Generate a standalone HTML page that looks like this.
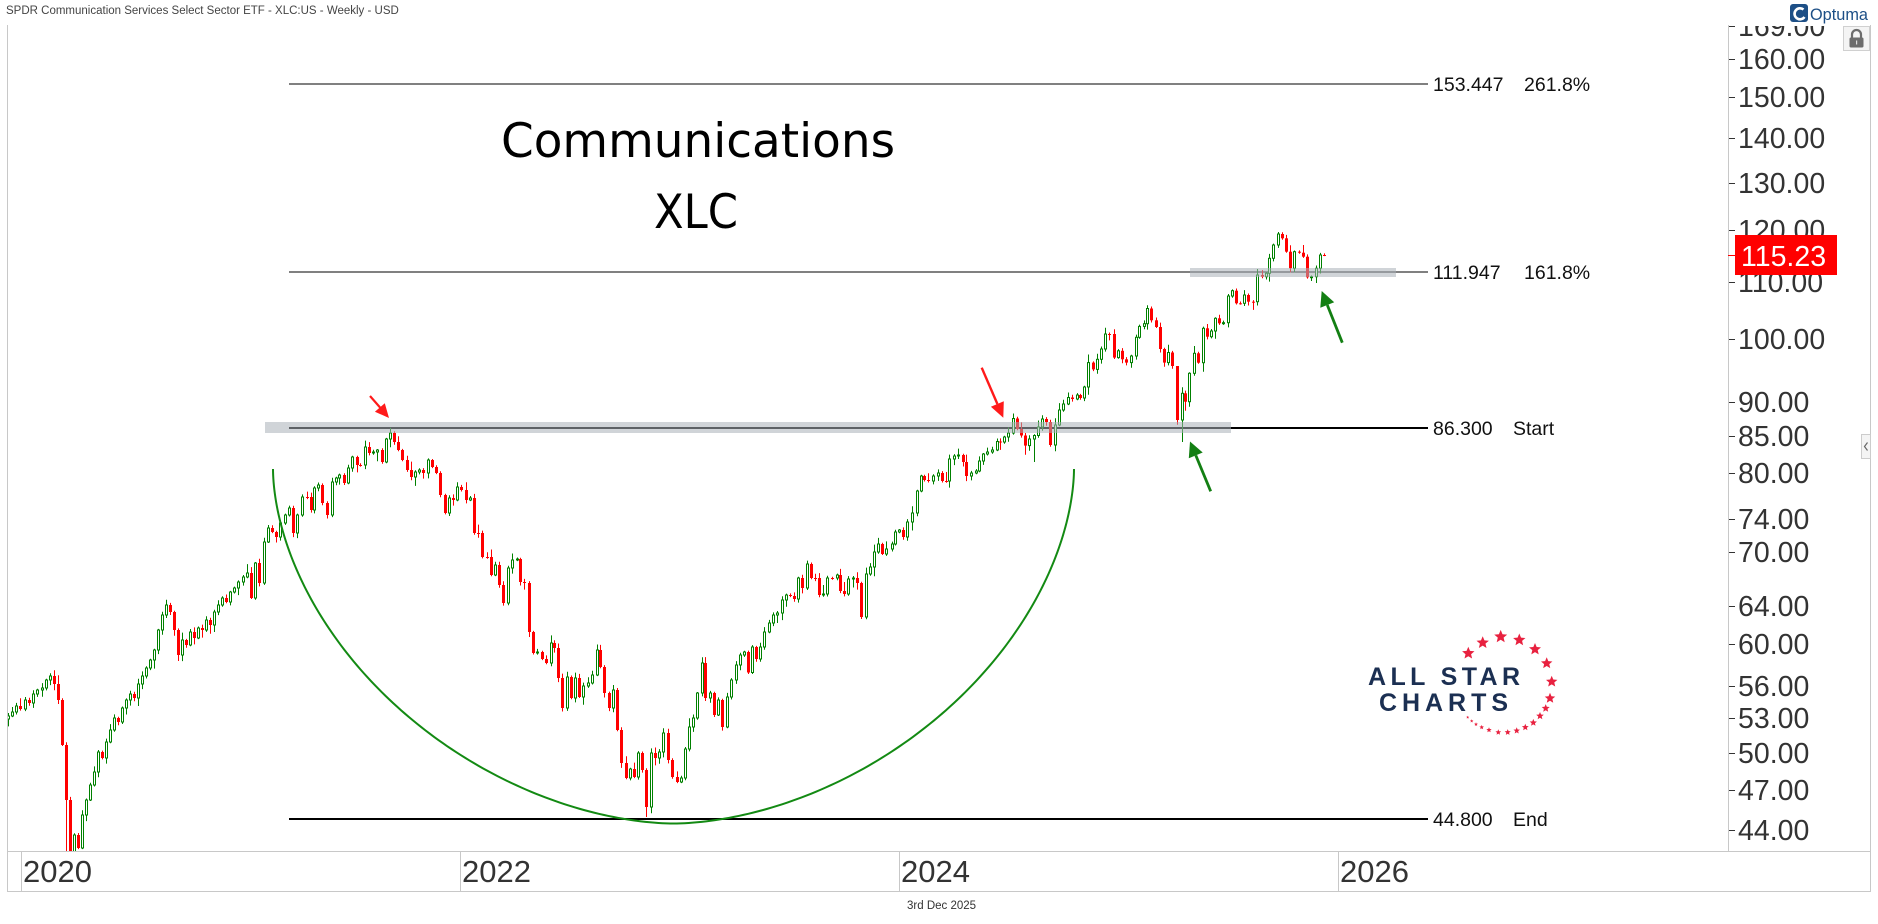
<!DOCTYPE html>
<html><head><meta charset="utf-8">
<style>
html,body{margin:0;padding:0;background:#fff;}
svg{display:block;}
text{font-family:"Liberation Sans",Arial,sans-serif;}
</style></head><body>
<svg id="s" width="1878" height="924" viewBox="0 0 1878 924" xmlns="http://www.w3.org/2000/svg">
<defs>
<clipPath id="plot"><rect x="8" y="25" width="1720" height="826"/></clipPath>
<clipPath id="axisclip"><rect x="1729" y="26" width="141" height="825"/></clipPath>
</defs>
<rect width="1878" height="924" fill="#fff"/>

<text x="6" y="14" font-size="11.5" fill="#444">SPDR Communication Services Select Sector ETF - XLC:US - Weekly - USD</text>

<!-- Optuma logo -->
<rect x="1790" y="4" width="18" height="18" rx="3" fill="#1d4f86"/>
<path d="M1803.5,9.5 A5.5,5.5 0 1 0 1804.5,17" stroke="#fff" stroke-width="2.6" fill="none"/>
<text x="1810" y="20" font-size="17" fill="#1d4f86" textLength="58" lengthAdjust="spacingAndGlyphs">Optuma</text>

<!-- frame -->
<g stroke="#c8c8c8" stroke-width="1" fill="none" shape-rendering="crispEdges">
<line x1="7.5" y1="25" x2="7.5" y2="892"/>
<line x1="7" y1="851.5" x2="1871" y2="851.5"/>
<line x1="7" y1="891.5" x2="1871" y2="891.5"/>
<line x1="1728.5" y1="25" x2="1728.5" y2="851"/>
<line x1="1870.5" y1="25" x2="1870.5" y2="892"/>
<line x1="21.5" y1="851" x2="21.5" y2="891"/>
<line x1="460.5" y1="851" x2="460.5" y2="891"/>
<line x1="899.5" y1="851" x2="899.5" y2="891"/>
<line x1="1338.5" y1="851" x2="1338.5" y2="891"/>
</g>

<!-- lock box -->
<rect x="1843.5" y="26.5" width="26" height="24" fill="#f4f4f4" stroke="#d0d0d0"/>
<path d="M1852,38 v-3.5 a4.5,4.5 0 0 1 9,0 v3.5" stroke="#6d6d6d" stroke-width="2.2" fill="none"/>
<rect x="1849.5" y="37.5" width="14" height="10" rx="1.5" fill="#6d6d6d"/>
<rect x="1856" y="40.5" width="1.2" height="4" fill="#ddd"/>

<!-- right tab -->
<rect x="1861.5" y="434.5" width="9" height="24" fill="#f4f4f4" stroke="#ccc"/>
<path d="M1867.5,442.5 l-3,4 l3,4" stroke="#666" stroke-width="1.2" fill="none"/>

<!-- x axis labels -->
<g font-size="31" fill="#333">
<text x="23" y="882">2020</text>
<text x="462" y="882">2022</text>
<text x="901" y="882">2024</text>
<text x="1340" y="882">2026</text>
</g>
<text x="907" y="909" font-size="11.5" fill="#333">3rd Dec 2025</text>

<!-- y axis -->
<g id="yaxis" clip-path="url(#axisclip)" font-size="28.5" fill="#333">
<g stroke="#333" stroke-width="1" shape-rendering="crispEdges">
<line x1="1728" y1="26.5" x2="1735" y2="26.5"/>
<line x1="1728" y1="59.5" x2="1735" y2="59.5"/>
<line x1="1728" y1="97.5" x2="1735" y2="97.5"/>
<line x1="1728" y1="138.5" x2="1735" y2="138.5"/>
<line x1="1728" y1="183.5" x2="1735" y2="183.5"/>
<line x1="1728" y1="230.5" x2="1735" y2="230.5"/>
<line x1="1728" y1="282.5" x2="1735" y2="282.5"/>
<line x1="1728" y1="339.5" x2="1735" y2="339.5"/>
<line x1="1728" y1="402.5" x2="1735" y2="402.5"/>
<line x1="1728" y1="436.5" x2="1735" y2="436.5"/>
<line x1="1728" y1="473.5" x2="1735" y2="473.5"/>
<line x1="1728" y1="519.5" x2="1735" y2="519.5"/>
<line x1="1728" y1="552.5" x2="1735" y2="552.5"/>
<line x1="1728" y1="606.5" x2="1735" y2="606.5"/>
<line x1="1728" y1="644.5" x2="1735" y2="644.5"/>
<line x1="1728" y1="686.5" x2="1735" y2="686.5"/>
<line x1="1728" y1="718.5" x2="1735" y2="718.5"/>
<line x1="1728" y1="753.5" x2="1735" y2="753.5"/>
<line x1="1728" y1="790.5" x2="1735" y2="790.5"/>
<line x1="1728" y1="830.5" x2="1735" y2="830.5"/>
</g>
<text x="1738" y="36">169.00</text>
<text x="1738" y="69">160.00</text>
<text x="1738" y="107">150.00</text>
<text x="1738" y="148">140.00</text>
<text x="1738" y="193">130.00</text>
<text x="1738" y="240">120.00</text>
<text x="1738" y="292">110.00</text>
<text x="1738" y="349">100.00</text>
<text x="1738" y="412">90.00</text>
<text x="1738" y="446">85.00</text>
<text x="1738" y="483">80.00</text>
<text x="1738" y="529">74.00</text>
<text x="1738" y="562">70.00</text>
<text x="1738" y="616">64.00</text>
<text x="1738" y="654">60.00</text>
<text x="1738" y="696">56.00</text>
<text x="1738" y="728">53.00</text>
<text x="1738" y="763">50.00</text>
<text x="1738" y="800">47.00</text>
<text x="1738" y="840">44.00</text>
</g>
<line x1="1728" y1="255.5" x2="1736" y2="255.5" stroke="#f00" stroke-width="1"/>
<rect x="1735" y="235" width="102" height="40" fill="#ff0000"/>
<text x="1741" y="266" font-size="28.5" fill="#fff">115.23</text>

<!-- fib lines -->
<g stroke="#000" shape-rendering="crispEdges">
<line x1="289" y1="84" x2="1428" y2="84" stroke-width="1.2"/>
<line x1="289" y1="272" x2="1428" y2="272" stroke-width="1.2"/>
<line x1="289" y1="428" x2="1428" y2="428" stroke-width="2.2"/>
<line x1="289" y1="819" x2="1428" y2="819" stroke-width="2.2"/>
</g>
<g font-size="19.5" fill="#111">
<text x="1433" y="91">153.447</text><text x="1524" y="91">261.8%</text>
<text x="1433" y="279">111.947</text><text x="1524" y="279">161.8%</text>
<text x="1433" y="435">86.300</text><text x="1513" y="435">Start</text>
<text x="1433" y="826">44.800</text><text x="1513" y="826">End</text>
</g>

<!-- candles -->
<g id="candles" clip-path="url(#plot)"></g>

<!-- bands -->
<rect x="265" y="422" width="966" height="11" fill="rgb(170,176,184)" fill-opacity="0.55"/>
<rect x="1190" y="268" width="206" height="9" fill="rgb(170,176,184)" fill-opacity="0.55"/>

<!-- arc -->
<path id="arc" d="M273,469 L276.7,513 L283,540 L307,600 L340,653 L407,717 L473,763 L540,797 L607,817 L673,823.5 L740,818 L807,797 L874,763 L940,717 L1007,653 L1040,600 L1064,540 L1070,513 L1074,469" stroke="#138a13" stroke-width="2" fill="none"/>

<!-- arrows -->
<g stroke-linecap="butt">
<line x1="370" y1="396" x2="380.5" y2="408" stroke="#ff1a1a" stroke-width="2.2"/>
<polygon points="389,418 374.9,411.7 384.8,403.2" fill="#ff1a1a"/>
<line x1="981.7" y1="367.7" x2="997.4" y2="404" stroke="#ff1a1a" stroke-width="2.4"/>
<polygon points="1003.3,417.8 990.9,406.8 1003.8,401.3" fill="#ff1a1a"/>
<line x1="1210.7" y1="491.3" x2="1195.8" y2="455.4" stroke="#137f13" stroke-width="2.8"/>
<polygon points="1190,441.5 1202.7,452.5 1188.8,458.2" fill="#137f13"/>
<line x1="1342.3" y1="342.7" x2="1327.3" y2="305" stroke="#137f13" stroke-width="2.8"/>
<polygon points="1321.7,291 1334.2,302.2 1320.3,307.7" fill="#137f13"/>
</g>

<!-- title -->
<g fill="#000">
<text x="501" y="157" font-size="47" textLength="394" lengthAdjust="spacingAndGlyphs" style="font-family:'DejaVu Sans',sans-serif">Communications</text>
<text x="654" y="228" font-size="47" textLength="84" lengthAdjust="spacingAndGlyphs" style="font-family:'DejaVu Sans',sans-serif">XLC</text>
</g>

<!-- All Star Charts logo -->
<g id="stars"></g>
<g fill="#1b2f52" font-weight="bold" font-size="25">
<text x="1368" y="685" textLength="152" lengthAdjust="spacing">ALL STAR</text>
<text x="1379" y="711" textLength="129" lengthAdjust="spacing">CHARTS</text>
</g>
</svg>

<script>
(function(){
var NS="http://www.w3.org/2000/svg";
function el(tag,attrs,parent){var e=document.createElementNS(NS,tag);for(var k in attrs)e.setAttribute(k,attrs[k]);parent.appendChild(e);return e;}
var K=[8,716,12,712,16,706,20,709,25,700,29,703,33,694,37,690,42,688,46,680,50,676,54,684,58,700,62,745,66,800,70,870,74,835,78,848,82,815,86,800,90,785,94,772,98,752,102,758,106,742,110,730,114,718,118,722,122,708,126,700,130,694,134,698,138,684,142,676,146,668,150,660,154,650,158,630,162,615,166,605,170,612,174,630,178,655,182,640,186,645,190,632,194,638,198,628,202,630,206,620,210,625,214,612,218,605,222,598,226,602,230,592,234,588,238,582,
243,577,247,573,251,598,255,563,259,583,264,542,268,528,272,532,276,537,280,523,285,515,289,508,293,533,297,515,302,497,307,497,311,510,314,488,318,485,322,503,327,515,332,482,336,478,339,475,344,483,348,468,352,457,357,465,360,465,365,447,369,453,373,452,377,450,382,462,386,439,390,433,394,442,398,450,402,460,407,470,411,477,415,472,419,470,423,473,428,460,432,467,436,473,440,495,445,513,449,498,453,500,457,487,461,490,466,500,470,498,474,533,478,533,482,557,487,557,491,575,495,565,499,585,503,603,508,568,512,560,517,559,520,582,524,583,529,632,533,653,537,652,542,659,546,663,551,643,554,648,558,678,562,708,567,677,571,698,575,678,579,697,583,686,588,683,592,675,597,650,600,667,604,693,609,708,613,690,617,730,621,763,626,778,630,769,634,777,638,753,642,770,646,807,651,753,655,758,659,752,663,733,668,760,672,777,677,782,681,778,685,749,689,727,693,718,697,693,702,663,705,698,710,693,714,715,718,700,722,727,727,697,731,680,736,665,740,655,
744,652,748,672.5,752.3,647,756,659,760,647,764.3,632,769.3,623,773.3,615,777.3,613,781.7,600,786,595,790,596,794.3,599,798.3,578,802.3,588,806.7,564,810.7,578,815,578,819,595,823.3,594,827.3,578,831.7,578,836.7,575,840,591,844.3,594,848.3,579,853.3,578,856.7,583,861,617,865.7,574,870,567,874.3,552,878.3,544,882.3,554,886,549,891.7,544,895,532,899.3,530,903.3,537,907.3,522,912.3,513,916.7,491,920.7,476,924.3,480,928.3,481,933.3,476,937.7,473,941.7,481,945.7,481,949.3,459,954,456,958.3,455,962.7,462,966,476,970.7,473,975.7,471,979.3,461,983.3,454,987.3,452,992.3,450,996.7,441.5,1000,442,1004.3,437,1008.3,433,1013.3,418.5,1016.7,429,1021,435.5,1025,445.6,1029.3,439,1034,435.5,1038.3,427,1042.3,419,1046,422,1050,445,1055.3,425,1059.3,410,1063.3,404,1067.7,397.5,1071.7,399,1076.7,395,1080,398,1084.3,387,1088.3,362.6,1092.7,369.4,1097.3,359.3,1101.3,349,1105.3,334,1109.3,334,1114,357.6,1118.3,350.8,1122.3,359.3,1126,362.6,1130.7,356,1135.7,337.3,1139.3,326.4,1144,323.7,1147.3,308.5,1151,320.3,1156,327,1160,349,1164,362.6,1168.3,352.5,1172.3,366,1176.7,420,
1181.7,393.3,1185,401.7,1189.3,373.3,1194,353.3,1198,362.7,1202.7,328.3,1206.7,336.7,1210.7,331,1215,318.3,1219,323.3,1223.3,322.7,1227.7,296,1231.7,290.7,1236,303.3,1240,303.3,1244.3,295,1248.3,301.7,1252.7,301.7,1257.3,275,1261.7,276.7,1265.7,273.3,1269,258.3,1273.3,245,1278.3,234,1281.7,238.3,1286,251.7,1290,268.3,1294.3,251.7,1299,252.7,1302.7,256.7,1306.7,277.3,1311,276.7,1316,268.3,1320,255,1324.3,255];
var OV=[[646,'lo',817],[1181.7,'lo',442],[1316,'lo',283],[1034,'lo',462],[1278.3,'hi',232],[861,'lo',619],[1176.7,'hi',370],[70,'lo',900],[66,'lo',880]];
var seed=20251203;function rnd(){seed=(seed*16807)%2147483647;return seed/2147483647;}
var g=document.getElementById('candles');
var G="#008000",R="#ff0000";
var prev=K[1]+3;
for(var i=0;i<K.length;i+=2){
 var x=K[i],c=K[i+1],o=prev;
 var top=Math.min(o,c),bot=Math.max(o,c);
 var hi=top-(1+rnd()*rnd()*9),lo=bot+(1+rnd()*rnd()*9);
 for(var j=0;j<OV.length;j++){if(Math.abs(OV[j][0]-x)<0.6){if(OV[j][1]=='lo')lo=OV[j][2];else hi=OV[j][2];}}
 var up=c<o;var col=up?G:R;var cx=Math.round(x);
 el('line',{x1:cx+0.5,y1:hi.toFixed(1),x2:cx+0.5,y2:lo.toFixed(1),stroke:col,'stroke-width':1},g);
 var h=Math.max(bot-top,1);
 if(up){el('rect',{x:cx-0.5,y:top.toFixed(1),width:2,height:h.toFixed(1),fill:'#fff',stroke:col,'stroke-width':1},g);}
 else{el('rect',{x:cx-1,y:top.toFixed(1),width:3,height:h.toFixed(1),fill:col},g);}
 prev=c;
}
// superellipse arc
var arc=document.getElementById('arc');
var cxE=673.5,cyE=469,rx=400.5,ry=354.5,n=1.8,e=2/n;
var pts=[];
for(var k=0;k<=240;k++){
 var t=Math.PI*k/240;
 var ct=Math.cos(t),st=Math.sin(t);
 var px=cxE-rx*(ct<0?-1:1)*Math.pow(Math.abs(ct),e);
 var py=cyE+ry*Math.pow(Math.abs(st),e);
 pts.push(px.toFixed(2)+','+py.toFixed(2));
}
arc.setAttribute('d','M'+pts.join(' L'));
// stars
var S=[[1468.3,653.3,6.5],[1482.7,642.7,6.5],[1500.7,636.7,6.8],[1519.3,640,6.5],[1535,649.3,6.3],[1546.7,663.3,6],[1551.7,681.7,6],[1550,698.3,5.5],[1545.7,708.3,4.2],[1540,716,4],[1533.3,722.7,3.8],[1525.3,727.3,3.6],[1516.7,730.7,3.4],[1507.7,732.3,3.2],[1498.3,732.3,3],[1489,730,2.8],[1481.7,727.3,2.4],[1476,724.3,2],[1471.7,721,1.8],[1467.7,717.3,1.6]];
var sg=document.getElementById('stars');
S.forEach(function(s){var p=[];for(var i=0;i<10;i++){var a=-Math.PI/2+i*Math.PI/5;var rr=i%2?s[2]*0.45:s[2];p.push((s[0]+rr*Math.cos(a)).toFixed(2)+','+(s[1]+rr*Math.sin(a)).toFixed(2));}el('polygon',{points:p.join(' '),fill:'#e8213f'},sg);});
})();
</script>
</body></html>
